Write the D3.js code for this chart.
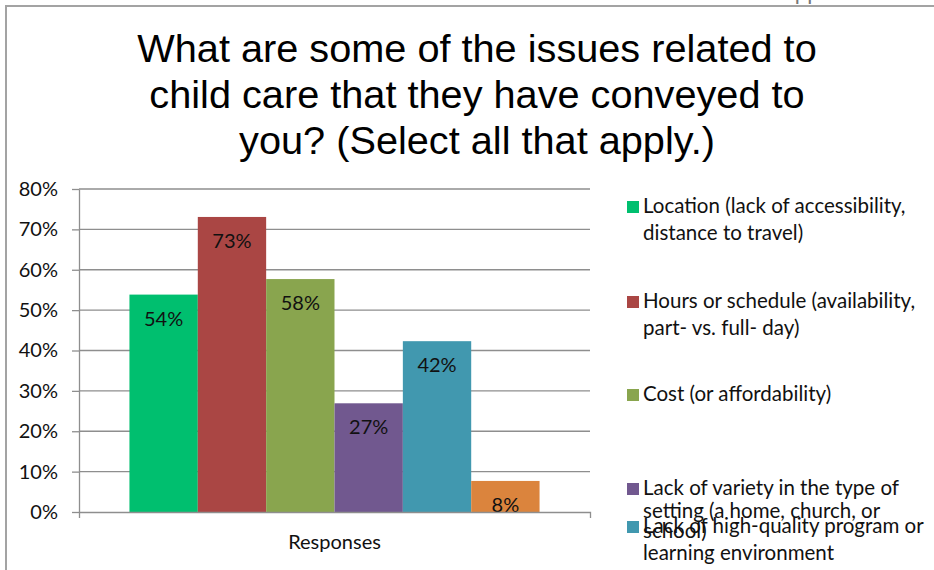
<!DOCTYPE html>
<html>
<head>
<meta charset="utf-8">
<script src="https://cdn.jsdelivr.net/npm/d3@7"></script>
<style>
  html, body { margin: 0; padding: 0; background: #fff; }
  svg { display: block; }
</style>
</head>
<body>
<svg id="chart" width="934" height="570"></svg>
<script>
// Survey responses: share of respondents selecting each child-care issue (n = 26)
const categories = [
  "Location (lack of accessibility, distance to travel)",
  "Hours or schedule (availability, part- vs. full- day)",
  "Cost (or affordability)",
  "Lack of variety in the type of setting (a home, church, or school)",
  "Lack of high-quality program or learning environment",
  "Other"
];
const values = [14 / 26, 19 / 26, 15 / 26, 7 / 26, 11 / 26, 2 / 26];
const colors = ["#00bf6f", "#aa4644", "#89a54e", "#71588f", "#4198af", "#db843d"];
const legendLines = [
  ["Location (lack of accessibility,", "distance to travel)"],
  ["Hours or schedule (availability,", "part- vs. full- day)"],
  ["Cost (or affordability)"],
  ["Lack of variety in the type of", "setting (a home, church, or", "school)"],
  ["Lack of high-quality program or", "learning environment"],
  ["Other"]
];
const groupLabel = ["Responses"];
const yTicks = [0, 0.1, 0.2, 0.3, 0.4, 0.5, 0.6, 0.7, 0.8];
const titleLines = [
  "What are some of the issues related to",
  "child care that they have conveyed to",
  "you? (Select all that apply.)"
];

const svg = d3.select("#chart");
const W = 934, H = 570;
const bodyFont = "Lato, 'Open Sans', sans-serif";

// frame around the chart area
svg.append("path")
  .attr("d", `M6,${H} L6,6 L${W},6`)
  .attr("fill", "none")
  .attr("stroke", "#a3a3a3")
  .attr("stroke-width", 2);

// header fragment at the very top edge
svg.append("text")
  .attr("x", 805).attr("y", 0)
  .attr("text-anchor", "middle")
  .attr("font-family", bodyFont)
  .attr("font-size", 22)
  .attr("fill", "#777")
  .text("Skipped");

// title
svg.append("g").selectAll("text")
  .data(titleLines)
  .join("text")
  .attr("x", 477)
  .attr("y", (d, i) => 62 + i * 46)
  .attr("text-anchor", "middle")
  .attr("font-family", "'Liberation Sans', Arial, sans-serif")
  .attr("font-size", 39.7)
  .attr("fill", "#000")
  .text(d => d);

// scales
const plot = { left: 79, right: 590, top: 189, bottom: 512 };
const y = d3.scaleLinear().domain([0, 0.8]).range([plot.bottom, plot.top]);
const x0 = d3.scaleBand().domain(groupLabel).range([plot.left, plot.right]).paddingOuter(0.123).paddingInner(0);
const x1 = d3.scaleBand().domain(categories).range([0, x0.bandwidth()]).padding(0);

// gridlines
svg.append("g")
  .selectAll("line")
  .data(yTicks.slice(1))
  .join("line")
  .attr("x1", plot.left).attr("x2", plot.right)
  .attr("y1", d => y(d)).attr("y2", d => y(d))
  .attr("stroke", "#8e8e8e")
  .attr("stroke-width", 1.3);

// bars
const barG = svg.append("g").attr("transform", `translate(${x0("Responses")},0)`);
barG.selectAll("rect")
  .data(values)
  .join("rect")
  .attr("x", (d, i) => x1(categories[i]))
  .attr("y", d => y(d))
  .attr("width", x1.bandwidth())
  .attr("height", d => y(0) - y(d))
  .attr("fill", (d, i) => colors[i]);

// value labels inside bars
const pct = d3.format(".0%");
barG.selectAll("text")
  .data(values)
  .join("text")
  .attr("x", (d, i) => x1(categories[i]) + x1.bandwidth() / 2)
  .attr("y", d => y(d) + 31)
  .attr("text-anchor", "middle")
  .attr("font-family", bodyFont)
  .attr("font-size", 20)
  .attr("fill", "#111")
  .text(d => pct(d));

// y axis
const yAxis = svg.append("g")
  .attr("transform", `translate(${plot.left},0)`)
  .call(d3.axisLeft(y).tickValues(yTicks).tickFormat(d3.format(".0%")).tickSize(7).tickSizeOuter(0).tickPadding(14));
yAxis.select(".domain").attr("stroke", "#8e8e8e").attr("stroke-width", 1.3);
yAxis.selectAll(".tick line").attr("stroke", "#8e8e8e").attr("stroke-width", 1.3);
yAxis.selectAll("text").attr("font-family", bodyFont).attr("font-size", 20).attr("fill", "#111");

// x axis
const xScaleAxis = d3.scaleBand().domain(groupLabel).range([plot.left, plot.right]);
const xAxis = svg.append("g")
  .attr("transform", `translate(0,${plot.bottom})`)
  .call(d3.axisBottom(xScaleAxis).tickSizeInner(0).tickSizeOuter(6).tickPadding(23));
xAxis.select(".domain").attr("stroke", "#8e8e8e").attr("stroke-width", 1.3);
xAxis.selectAll("text").attr("font-family", bodyFont).attr("font-size", 20).attr("fill", "#111");

// legend
const legendTop = [213, 308, 401, 495, 533, 627];
const legendSpacing = [[0, 27], [0, 27], [0], [0, 23, 43], [0, 27], [0]];
const legend = svg.append("g");
legendLines.forEach((lines, i) => {
  if (legendTop[i] > H) return;
  const g = legend.append("g");
  g.append("rect")
    .attr("x", 627).attr("y", legendTop[i] - 12)
    .attr("width", 12).attr("height", 12)
    .attr("fill", colors[i]);
  g.selectAll("text")
    .data(lines)
    .join("text")
    .attr("x", 643)
    .attr("y", (d, j) => legendTop[i] + legendSpacing[i][j])
    .attr("font-family", bodyFont)
    .attr("font-size", 20.5)
    .attr("fill", "#111")
    .text(d => d);
});
</script>
</body>
</html>
